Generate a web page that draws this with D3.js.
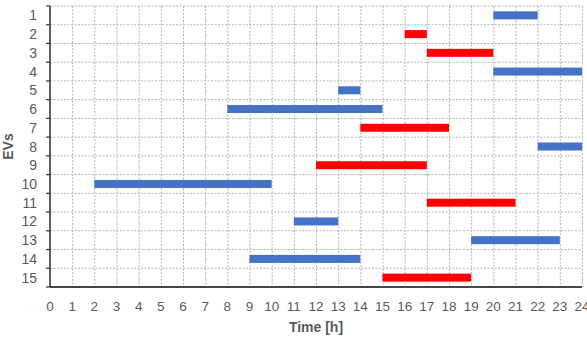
<!DOCTYPE html>
<html>
<head>
<meta charset="utf-8">
<script src="https://cdn.jsdelivr.net/npm/d3@7"></script>
<style>
  body { margin: 0; background: #fff; }
  text { font-family: "Liberation Sans", Arial, sans-serif; }
  .grid line { stroke: #b4b4b4; stroke-dasharray: 2,1.5; }
  .grid path { display: none; }
</style>
</head>
<body>
<script>
// EV charging windows
const evs = ["1","2","3","4","5","6","7","8","9","10","11","12","13","14","15"];
const starts = [20, 16, 17, 20, 13, 8, 14, 22, 12, 2, 17, 11, 19, 9, 15];
const ends   = [22, 17, 20, 24, 14, 15, 18, 24, 17, 10, 21, 13, 23, 14, 19];
const kinds  = ["b","r","r","b","b","b","r","b","r","b","r","b","b","b","r"];
const hourTicks = d3.range(0, 25);

const margin = {top: 6, right: 5, bottom: 53, left: 50}
  , width = 587 - margin.left - margin.right
  , height = 340 - margin.top - margin.bottom;

const svg = d3.select("body").append("svg")
  .attr("width", 587)
  .attr("height", 340)
  .append("g")
  .attr("transform", "translate(" + margin.left + "," + margin.top + ")");

const xScale = d3.scaleLinear().domain([0, 24]).range([0, 532]);
const yScale = d3.scaleBand().domain(evs).range([0, height]);

// grid
svg.append("g").attr("class", "grid")
  .call(d3.axisTop(xScale).tickValues(hourTicks).tickSize(-height).tickFormat(""));
svg.append("g").attr("class", "grid")
  .call(d3.axisLeft(yScale.copy().domain(d3.range(16)).range([0, height]).paddingInner(0).paddingOuter(0))
    .tickSize(-532).tickFormat(""))
  .selectAll(".tick").attr("transform", (d, i) => "translate(0," + (i * height / 15) + ")");

// bars
const colors = {b: "#4472C4", r: "#FF0000"};
const barH = 8;
svg.append("g").selectAll("rect")
  .data(evs)
  .enter().append("rect")
  .attr("x", (d, i) => xScale(starts[i]))
  .attr("width", (d, i) => xScale(ends[i]) - xScale(starts[i]))
  .attr("y", d => yScale(d) + yScale.bandwidth() / 2 - barH / 2)
  .attr("height", barH)
  .attr("fill", (d, i) => colors[kinds[i]]);

// left axis
const yBounds = d3.range(16).map(i => i * height / 15);
const gY = svg.append("g");
gY.append("line").attr("x1", 0).attr("x2", 0).attr("y1", 0).attr("y2", height)
  .attr("stroke", "#333").attr("stroke-width", 1.5);
gY.selectAll(".tk").data(yBounds).enter().append("line")
  .attr("x1", -4).attr("x2", 0).attr("y1", d => d).attr("y2", d => d)
  .attr("stroke", "#333").attr("stroke-width", 1.2);
gY.selectAll(".lbl").data(evs).enter().append("text")
  .attr("x", -13).attr("y", d => yScale(d) + yScale.bandwidth() / 2)
  .attr("dy", "0.36em").attr("text-anchor", "end")
  .attr("font-size", 14).attr("fill", "#595959").text(d => d);

// bottom axis
const gX = svg.append("g").attr("transform", "translate(0," + height + ")");
gX.append("line").attr("x1", 0).attr("x2", 532).attr("stroke", "#111").attr("stroke-width", 1.5);
gX.selectAll("text").data(hourTicks).enter().append("text")
  .attr("x", d => xScale(d)).attr("y", 19)
  .attr("dy", "0.36em").attr("text-anchor", "middle")
  .attr("font-size", 13.5).attr("fill", "#595959").text(d => d);

// titles
svg.append("text").attr("x", 266).attr("y", 40 + height)
  .attr("dy", "0.36em").attr("text-anchor", "middle")
  .attr("font-size", 14).attr("font-weight", "bold").attr("fill", "#595959").text("Time [h]");
svg.append("text").attr("transform", "translate(" + (-42) + "," + (height / 2) + ") rotate(-90)")
  .attr("dy", "0.36em").attr("text-anchor", "middle")
  .attr("font-size", 14).attr("font-weight", "bold").attr("fill", "#595959").text("EVs");
</script>
</body>
</html>
